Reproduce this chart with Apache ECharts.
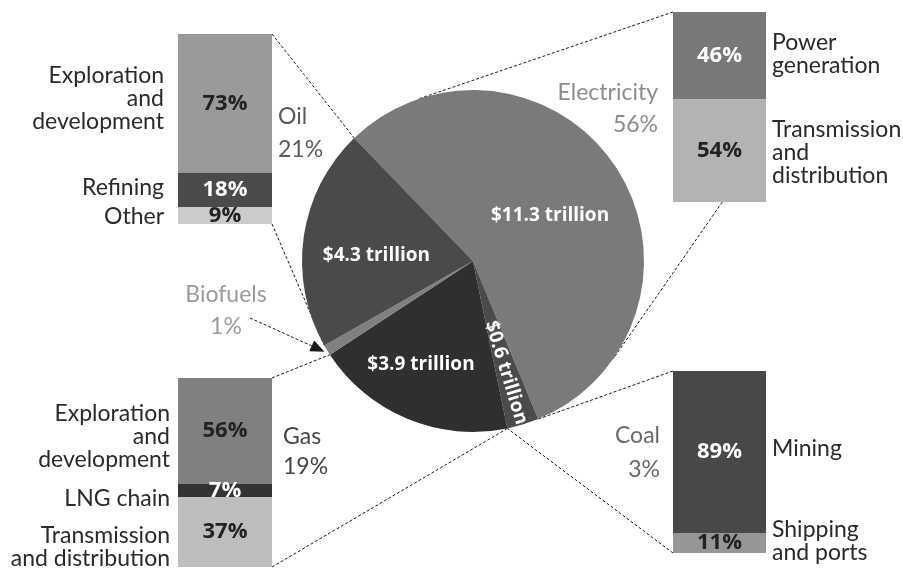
<!DOCTYPE html>
<html>
<head>
<meta charset="utf-8">
<script src="https://cdn.jsdelivr.net/npm/echarts@6/dist/echarts.min.js"></script>
<style>
html,body{margin:0;padding:0;background:#fff;}
#c{width:903px;height:569px;}
</style>
</head>
<body>
<div id="c"></div>
<script>
// ---------------- DATA ----------------
const pieNames = ['Electricity', 'Coal', 'Gas', 'Biofuels', 'Oil'];
const pieShares = [56, 3, 19, 1, 21];
const pieTrillions = [11.3, 0.6, 3.9, null, 4.3];

const oilParts = ['Exploration\nand\ndevelopment', 'Refining', 'Other'];
const oilShares = [73, 18, 9];
const elecParts = ['Power\ngeneration', 'Transmission\nand\ndistribution'];
const elecShares = [46, 54];
const gasParts = ['Exploration\nand\ndevelopment', 'LNG chain', 'Transmission\nand distribution'];
const gasShares = [56, 7, 37];
const coalParts = ['Mining', 'Shipping\nand ports'];
const coalShares = [89, 11];

// ---------------- STYLE / LAYOUT ----------------
const FONT = 'Lato, "Open Sans", sans-serif';
const BOLD = '"Open Sans", "Noto Sans", sans-serif';
const CX = 473, CY = 261, R = 171, START = 134;
const sliceColors = ['#7a7a7a', '#4b4b4b', '#2f2f2f', '#808080', '#4a4a4a'];
const catLabelColors = ['#8c8c8c', '#6a6a6a', '#454545', '#9a9a9a', '#5a5a5a'];
// pie inner label offsets (dx, dy in the label's own frame) and rotation
const pieLabelShift = [[3, 3], [28, 1], [-18, 22], [0, 0], [-9, 7]];
const pieLabelRotate = [0, -73, 0, 0, 0];
// category label placement: x, top, align, lineHeight
const catLabelPos = [
  [658, 77, 'right', 32],
  [660, 419, 'right', 34],
  [283, 422, 'left', 30],
  [226, 279, 'center', 32],
  [278, 100, 'left', 33]
];

const boxes = {
  oil:  {left: 178, top: 34,  width: 94, height: 190, colors: ['#9a9a9a', '#4a4a4a', '#cbcbcb'], txt: ['#222', '#fff', '#222'], side: 'left', dist: 14, dy: [-5, -2, 1]},
  elec: {left: 673, top: 12,  width: 93, height: 190, colors: ['#787878', '#b3b3b3'], txt: ['#fff', '#222'], side: 'right', dist: 6, dy: [-2, 2]},
  gas:  {left: 178, top: 378, width: 94, height: 189, colors: ['#808080', '#333333', '#bdbdbd'], txt: ['#222', '#fff', '#222'], side: 'left', dist: 8, dy: [6, 8, 15]},
  coal: {left: 673, top: 371, width: 93, height: 182, colors: ['#484848', '#969696'], txt: ['#fff', '#222'], side: 'right', dist: 6, dy: [-3, -2]}
};
const breakdowns = [
  ['oil', oilParts, oilShares],
  ['elec', elecParts, elecShares],
  ['gas', gasParts, gasShares],
  ['coal', coalParts, coalShares]
];

// ---------------- BUILD ----------------
const grids = [], xAxes = [], yAxes = [], series = [];
breakdowns.forEach(([key, parts, shares], gi) => {
  const b = boxes[key];
  grids.push({left: b.left, top: b.top, width: b.width, height: b.height, containLabel: false});
  xAxes.push({type: 'category', gridIndex: gi, data: [key], show: false});
  yAxes.push({type: 'value', gridIndex: gi, min: 0, max: 100, inverse: true, show: false});
  shares.forEach((v, i) => {
    series.push({
      type: 'bar', xAxisIndex: gi, yAxisIndex: gi, stack: 'seg' + gi,
      barWidth: '100%', barGap: '-100%', data: [v], silent: true,
      itemStyle: {color: b.colors[i]},
      label: {show: true, position: 'inside', formatter: v + '%', color: b.txt[i],
        fontFamily: BOLD, fontWeight: 'bold', fontSize: 22, textBorderWidth: 0}
    });
  });
  shares.forEach((v, i) => {
    series.push({
      type: 'bar', xAxisIndex: gi, yAxisIndex: gi, stack: 'lab' + gi,
      barWidth: '100%', barGap: '-100%', data: [v], silent: true,
      itemStyle: {color: 'rgba(0,0,0,0)'},
      label: {show: true, position: b.side, distance: b.dist, formatter: parts[i],
        offset: [0, b.dy[i]],
        color: '#2a2a2a', fontFamily: FONT, fontSize: 23, lineHeight: 23,
        align: b.side === 'left' ? 'right' : 'left', textBorderWidth: 0}
    });
  });
});

const pieData = pieNames.map((n, i) => ({
  name: n, value: pieShares[i],
  itemStyle: {color: sliceColors[i]},
  label: {
    show: pieTrillions[i] != null,
    formatter: pieTrillions[i] != null ? '$' + pieTrillions[i].toFixed(1) + ' trillion' : '',
    rotate: pieLabelRotate[i]
  }
}));

series.push({
  type: 'pie', center: [CX, CY], radius: R, startAngle: START, clockwise: true,
  silent: true, z: 5,
  data: pieData,
  itemStyle: {borderWidth: 0},
  label: {position: 'inside', color: '#fff', fontFamily: BOLD, fontWeight: 'bold',
    fontSize: 19, textBorderWidth: 0},
  labelLine: {show: false},
  labelLayout: function (p) {
    const s = pieLabelShift[p.dataIndex];
    return {dx: s[0], dy: s[1]};
  },
  emphasis: {disabled: true}
});

// connector geometry derived from the pie data
const total = pieShares.reduce((a, b) => a + b, 0);
function boundary(k) { let s = 0; for (let i = 0; i < k; i++) s += pieShares[i]; return START - 360 * s / total; }
function piePt(deg, r) { r = r || R; const a = deg * Math.PI / 180; return [CX + r * Math.cos(a), CY - r * Math.sin(a)]; }
function tangent(px, py, side) {
  const dx = px - CX, dy = CY - py, d = Math.hypot(dx, dy);
  const base = Math.atan2(dy, dx) * 180 / Math.PI, off = Math.acos(R / d) * 180 / Math.PI;
  return piePt(base + side * off);
}
const ob = boxes.oil, eb = boxes.elec, gb = boxes.gas, cb = boxes.coal;
const connectors = [
  [[ob.left + ob.width, ob.top], piePt(boundary(0))],
  [[ob.left + ob.width, ob.top + ob.height], piePt(boundary(4))],
  [[gb.left + gb.width, gb.top], piePt(boundary(3))],
  [[gb.left + gb.width, gb.top + gb.height], piePt(boundary(2))],
  [[cb.left, cb.top], piePt(boundary(1))],
  [[cb.left, cb.top + cb.height], piePt(boundary(2))],
  [[eb.left, eb.top], tangent(eb.left, eb.top, 1)],
  [[eb.left + eb.width * 0.53, eb.top + eb.height], tangent(eb.left + eb.width * 0.53, eb.top + eb.height, -1)]
];

const graphics = [];
connectors.forEach(([a, b]) => {
  graphics.push({type: 'line', silent: true, z: -1,
    shape: {x1: a[0], y1: a[1], x2: b[0], y2: b[1]},
    style: {stroke: '#1a1a1a', lineWidth: 1, lineDash: [3, 2]}});
});

// biofuels pointer
const bioIdx = pieNames.indexOf('Biofuels');
const tip = piePt((boundary(bioIdx) + boundary(bioIdx + 1)) / 2, R + 3);
const from = [250, 318];
const ux = tip[0] - from[0], uy = tip[1] - from[1], ul = Math.hypot(ux, uy);
const vx = ux / ul, vy = uy / ul, HL = 14, HW = 6;
const bx = tip[0] - vx * HL, by = tip[1] - vy * HL;
graphics.push({type: 'line', silent: true, z: 10,
  shape: {x1: from[0], y1: from[1], x2: bx, y2: by},
  style: {stroke: '#1a1a1a', lineWidth: 1, lineDash: [3, 2]}});
graphics.push({type: 'polygon', silent: true, z: 10,
  shape: {points: [tip, [bx - vy * HW, by + vx * HW], [bx + vy * HW, by - vx * HW]]},
  style: {fill: '#1a1a1a'}});

// category labels
pieNames.forEach((n, i) => {
  const p = catLabelPos[i];
  graphics.push({type: 'text', silent: true, z: 10, x: p[0], y: p[1],
    style: {text: n + '\n' + pieShares[i] + '%', fill: catLabelColors[i],
      fontFamily: FONT, fontSize: 23, align: p[2], textAlign: p[2],
      verticalAlign: 'top', textVerticalAlign: 'top', lineHeight: p[3]}});
});

const chart = echarts.init(document.getElementById('c'));
chart.setOption({
  animation: false,
  backgroundColor: '#fff',
  textStyle: {fontFamily: FONT},
  grid: grids, xAxis: xAxes, yAxis: yAxes,
  series: series,
  graphic: {elements: graphics}
});
</script>
</body>
</html>
